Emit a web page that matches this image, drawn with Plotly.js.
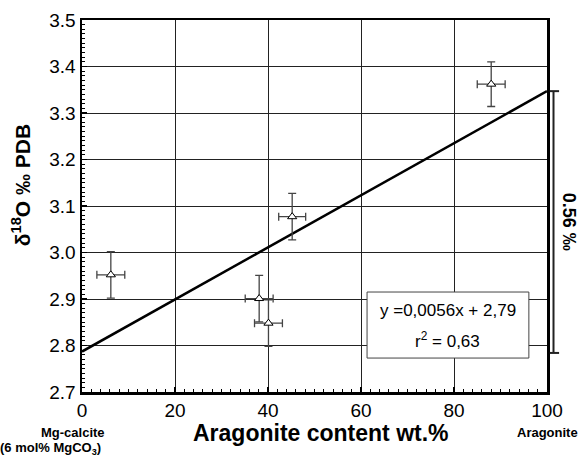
<!DOCTYPE html>
<html>
<head>
<meta charset="utf-8">
<script src="https://cdn.plot.ly/plotly-3.0.1.min.js"></script>
<style>html,body{margin:0;padding:0;background:#fff;}#chart{width:586px;height:459px;}</style>
</head>
<body>
<div id="chart"></div>
<script>
// Data
const aragonite = [6.2, 38.1, 40.1, 45.2, 88.0];
const d18O = [2.952, 2.901, 2.848, 3.077, 3.362];
const errX = [3.0, 3.0, 3.0, 2.9, 3.0];
const errY = [0.05, 0.05, 0.05, 0.05, 0.048];
const trendX = [0, 100];
const trendY = [2.787, 3.347];
const rangeBarY = [2.784, 3.347];
const xTicks = [0, 20, 40, 60, 80, 100];
const yTicks = [2.7, 2.8, 2.9, 3.0, 3.1, 3.2, 3.3, 3.4, 3.5];
const eqText = "y =0,0056x + 2,79";
const r2Text = "r<sup>2</sup> = 0,63";

const F = "Liberation Sans, Arial, sans-serif";

const traces = [
  {
    x: trendX, y: trendY, mode: 'lines', type: 'scatter',
    line: {color: '#000', width: 2.5}, hoverinfo: 'skip'
  },
  {
    x: aragonite, y: d18O, mode: 'markers', type: 'scatter',
    marker: {symbol: 'triangle-up', size: 8, color: '#fff', line: {color: '#000', width: 1}},
    error_x: {type: 'data', array: errX, visible: true, color: '#444', thickness: 1.3, width: 4},
    error_y: {type: 'data', array: errY, visible: true, color: '#444', thickness: 1.3, width: 4}
  }
];

const layout = {
  width: 586, height: 459,
  margin: {l: 82, r: 39, t: 20, b: 67},
  paper_bgcolor: '#fff', plot_bgcolor: '#fff',
  showlegend: false,
  font: {family: F, color: '#000'},
  xaxis: {
    range: [0, 100], tickvals: xTicks, ticktext: xTicks.map(String),
    showgrid: true, gridcolor: '#222', gridwidth: 1,
    showline: true, linecolor: '#000', linewidth: 2.5, mirror: true,
    ticks: 'inside', ticklen: 5, tickcolor: '#000', tickwidth: 1.5,
    minor: {dtick: 2, ticks: 'inside', ticklen: 3, tickcolor: '#000', tickwidth: 1, showgrid: false},
    tickfont: {size: 19, family: F}, zeroline: false, fixedrange: true
  },
  yaxis: {
    range: [2.7, 3.5], tickvals: yTicks, ticktext: yTicks.map(v => v.toFixed(1)),
    showgrid: true, gridcolor: '#222', gridwidth: 1,
    showline: true, linecolor: '#000', linewidth: 2.5, mirror: true,
    ticks: 'inside', ticklen: 5, tickcolor: '#000', tickwidth: 1.5,
    minor: {dtick: 0.01, ticks: 'inside', ticklen: 3, tickcolor: '#000', tickwidth: 1, showgrid: false},
    tickfont: {size: 19, family: F}, zeroline: false, fixedrange: true
  },
  shapes: [
    {type: 'rect', xref: 'x', yref: 'y', x0: 61.3, x1: 96.1, y0: 2.773, y1: 2.915,
     fillcolor: '#fff', line: {color: '#444', width: 1}, layer: 'above'},
    {type: 'line', xref: 'paper', yref: 'y', x0: 1.014, x1: 1.014, y0: rangeBarY[0], y1: rangeBarY[1],
     line: {color: '#222', width: 2}},
    {type: 'line', xref: 'paper', yref: 'y', x0: 1.006, x1: 1.026, y0: rangeBarY[1], y1: rangeBarY[1],
     line: {color: '#222', width: 2}},
    {type: 'line', xref: 'paper', yref: 'y', x0: 1.006, x1: 1.026, y0: rangeBarY[0], y1: rangeBarY[0],
     line: {color: '#222', width: 2}}
  ],
  annotations: [
    {text: eqText, xref: 'x', yref: 'y', x: 78.7, y: 2.875, showarrow: false,
     font: {size: 17, family: F}},
    {text: r2Text, xref: 'x', yref: 'y', x: 78.7, y: 2.812, showarrow: false,
     font: {size: 17, family: F}},
    {text: '<b>0.56 ‰</b>', xref: 'paper', yref: 'paper', x: 1.048, y: 0.457, showarrow: false,
     xanchor: 'center', yanchor: 'middle', textangle: 90, font: {size: 18, family: F}},
    {text: '<b>δ<sup>18</sup>O ‰ PDB</b>', xref: 'paper', yref: 'paper', x: -0.131, y: 0.556,
     xanchor: 'center', yanchor: 'middle', showarrow: false, textangle: -90, font: {size: 21, family: F}},
    {text: '<b>Aragonite content wt.%</b>', xref: 'paper', yref: 'paper', x: 0.514, y: -0.111,
     xanchor: 'center', yanchor: 'middle', showarrow: false, font: {size: 23, family: F}},
    {text: '<b>Mg-calcite</b>', xref: 'paper', yref: 'paper', x: -0.02, y: -0.108,
     xanchor: 'center', yanchor: 'middle', showarrow: false, font: {size: 13, family: F}},
    {text: '<b>(6 mol% MgCO<sub>3</sub>)</b>', xref: 'paper', yref: 'paper', x: -0.068, y: -0.153,
     xanchor: 'center', yanchor: 'middle', showarrow: false, font: {size: 13, family: F}},
    {text: '<b>Aragonite</b>', xref: 'paper', yref: 'paper', x: 1.0, y: -0.108,
     xanchor: 'center', yanchor: 'middle', showarrow: false, font: {size: 13, family: F}}
  ]
};

Plotly.newPlot('chart', traces, layout, {displayModeBar: false, staticPlot: true});
</script>
</body>
</html>
